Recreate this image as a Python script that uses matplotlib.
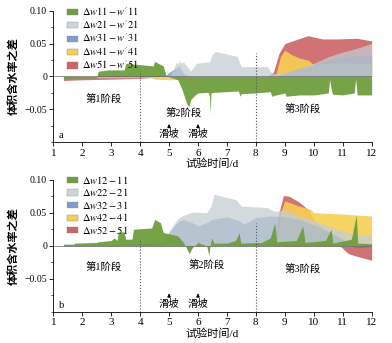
import numpy as np
import matplotlib
matplotlib.use("Agg")
import matplotlib.pyplot as plt
from matplotlib.patches import Patch
from matplotlib.ticker import MultipleLocator

plt.rcParams['font.family'] = ['Liberation Serif', 'Noto Sans CJK SC']
plt.rcParams['mathtext.fontset'] = 'stix'
plt.rcParams['axes.unicode_minus'] = True

# ---------------------------------------------------------------------------
# Datos panel a
# ---------------------------------------------------------------------------
t_a1 = [1.35, 2.5, 2.55, 2.9, 3.45, 3.5, 4.0, 4.45, 4.5, 4.8, 4.9, 5.3, 5.45, 5.6, 5.68,
        5.75, 5.9, 6.0, 6.35, 6.4, 6.42, 6.45, 6.6, 7.4, 7.45, 7.5, 8.0, 8.5, 8.55, 8.7,
        9.0, 9.05, 9.5, 10.0, 10.5, 10.55, 10.6, 10.65, 11.0, 11.4, 11.45, 11.5, 12.0]
v_a1 = [-0.003, -0.002, 0.008, 0.010, 0.010, 0.020, 0.018, 0.016, 0.023, 0.016, 0.001,
        -0.005, -0.020, -0.040, -0.046, -0.035, -0.028, -0.025, -0.024, -0.030, -0.057,
        -0.025, -0.024, -0.022, -0.030, -0.026, -0.025, -0.023, -0.030, -0.028, -0.025,
        -0.030, -0.028, -0.028, -0.025, -0.005, -0.018, -0.027, -0.028, -0.025, -0.003,
        -0.028, -0.028]

t_a2 = [1.4, 5.0, 5.15, 5.25, 5.3, 5.35, 5.4, 5.5, 5.75, 5.95, 6.3, 6.4, 6.5, 6.6, 7.3,
        7.35, 7.45, 7.5, 8.4, 8.5, 8.6, 9.0, 9.5, 10.0, 10.5, 11.0, 11.5, 12.0]
v_a2 = [-0.002, -0.002, 0.010, 0.022, 0.018, 0.025, 0.020, 0.022, 0.008, 0.020, 0.022,
        0.022, 0.034, 0.038, 0.031, 0.031, 0.020, 0.015, 0.015, 0.008, 0.004, 0.006,
        0.012, 0.020, 0.030, 0.037, 0.043, 0.050]

t_a3 = [4.85, 5.0, 5.2, 5.35, 5.5, 5.7, 8.7, 9.0, 9.5, 10.0, 10.5, 11.0, 11.5, 12.0]
v_a3 = [0.0, 0.006, 0.012, 0.016, 0.005, 0.0, 0.0, 0.005, 0.012, 0.018, 0.025, 0.030,
        0.032, 0.033]

t_a4 = [4.3, 4.5, 5.0, 5.4, 5.6, 8.5, 8.7, 8.85, 9.0, 9.2, 9.5, 9.8, 10.0, 10.5, 11.0, 12.0]
v_a4 = [0.0, -0.004, -0.005, -0.004, 0.0, 0.0, 0.005, 0.030, 0.040, 0.034, 0.028, 0.025,
        0.018, 0.020, 0.020, 0.020]

t_a5 = [1.35, 2.0, 3.0, 4.0, 4.5, 4.8, 8.4, 8.6, 8.8, 9.0, 9.4, 9.8, 10.3, 10.8, 11.5, 12.0]
v_a5 = [-0.006, -0.005, -0.004, -0.003, -0.001, 0.0, 0.0, 0.006, 0.035, 0.050, 0.056,
        0.062, 0.057, 0.057, 0.058, 0.054]

# ---------------------------------------------------------------------------
# Datos panel b
# ---------------------------------------------------------------------------
t_b1 = [1.35, 1.7, 1.75, 2.5, 2.55, 3.0, 3.1, 3.2, 3.25, 3.45, 3.5, 3.72, 3.77, 4.4, 4.5,
        4.7, 4.8, 5.3, 5.5, 5.65, 5.7, 5.8, 6.0, 6.3, 6.38, 6.42, 6.48, 6.55, 7.0, 7.3,
        7.42, 7.48, 8.2, 8.5, 8.65, 8.72, 9.4, 9.62, 9.7, 10.4, 10.6, 10.66, 11.3, 11.47,
        11.52, 12.0]
v_b1 = [0.002, 0.002, 0.004, 0.005, 0.006, 0.008, 0.012, 0.008, 0.021, 0.021, 0.010,
        0.010, 0.025, 0.027, 0.040, 0.035, 0.020, 0.015, 0.005, -0.008, -0.012, -0.003,
        0.005, 0.000, -0.015, 0.002, 0.012, 0.004, 0.004, 0.008, 0.020, 0.004, 0.005,
        0.012, 0.035, 0.006, 0.008, 0.030, 0.005, 0.008, 0.025, 0.004, 0.010, 0.047,
        0.004, 0.003]

t_b2 = [1.35, 3.0, 4.7, 4.85, 5.0, 5.3, 5.5, 5.8, 6.3, 6.45, 6.55, 7.3, 7.4, 7.5, 8.4,
        8.5, 8.7, 9.0, 9.5, 10.0, 10.5, 11.0, 11.5, 12.0]
v_b2 = [0.003, 0.003, 0.0, 0.010, 0.022, 0.041, 0.046, 0.051, 0.050, 0.060, 0.078,
        0.070, 0.065, 0.060, 0.058, 0.055, 0.052, 0.055, 0.045, 0.038, 0.030, 0.022,
        0.018, 0.015]

t_b3 = [1.35, 3.0, 4.8, 5.0, 5.3, 5.5, 5.8, 6.0, 6.3, 6.5, 7.0, 7.4, 7.6, 8.0, 8.5, 9.0,
        9.5, 10.0, 10.5, 11.0, 11.2, 11.5, 11.8, 12.0]
v_b3 = [0.002, 0.002, 0.005, 0.020, 0.036, 0.040, 0.035, 0.030, 0.035, 0.040, 0.044,
        0.038, 0.033, 0.043, 0.045, 0.044, 0.040, 0.032, 0.022, 0.010, 0.0, -0.003,
        -0.002, 0.0]

t_b4 = [8.7, 8.85, 9.0, 9.5, 9.9, 10.0, 11.0, 12.0]
v_b4 = [0.0, 0.050, 0.068, 0.060, 0.055, 0.050, 0.048, 0.045]

t_b5 = [8.6, 8.8, 8.95, 9.15, 9.5, 9.8, 10.0, 10.5, 10.9, 11.2, 11.5, 12.0]
v_b5 = [0.0, 0.050, 0.076, 0.075, 0.066, 0.055, 0.040, 0.020, 0.0, -0.012, -0.016, -0.022]

labels_a = [r'$\Delta w\mathrm{11}-w^{\prime}\mathrm{11}$',
            r'$\Delta w\mathrm{21}-w^{\prime}\mathrm{21}$',
            r'$\Delta w\mathrm{31}-w^{\prime}\mathrm{31}$',
            r'$\Delta w\mathrm{41}-w^{\prime}\mathrm{41}$',
            r'$\Delta w\mathrm{51}-w^{\prime}\mathrm{51}$']
labels_b = [r'$\Delta w\mathrm{12}-\mathrm{11}$', r'$\Delta w\mathrm{22}-\mathrm{21}$',
            r'$\Delta w\mathrm{32}-\mathrm{31}$', r'$\Delta w\mathrm{42}-\mathrm{41}$',
            r'$\Delta w\mathrm{52}-\mathrm{51}$']

colores = ['#6f9e3e', '#c3ced4', '#4a72b0', '#f7cf52', '#cd6668']
alphas = [0.95, 0.75, 0.6, 0.9, 0.92]

fig = plt.figure(figsize=(3.92, 3.43), dpi=100)
ax_a = fig.add_axes([0.136, 0.585, 0.812, 0.384])
ax_b = fig.add_axes([0.136, 0.091, 0.812, 0.385])

paneles = [
    (ax_a, [(t_a1, v_a1), (t_a2, v_a2), (t_a3, v_a3), (t_a4, v_a4), (t_a5, v_a5)],
     labels_a, 'a', [(2.75, -0.036), (5.5, -0.057), (9.6, -0.050)], 0.008, 0.035),
    (ax_b, [(t_b1, v_b1), (t_b2, v_b2), (t_b3, v_b3), (t_b4, v_b4), (t_b5, v_b5)],
     labels_b, 'b', [(2.75, -0.033), (6.3, -0.030), (9.6, -0.036)], 0.008, 0.034),
]

for ax, series, labels, letra, fases, top4, top8 in paneles:
    # orden de dibujo: rojo, amarillo, azul, gris, verde
    for i in [4, 3, 2, 1, 0]:
        t, v = series[i]
        ax.fill_between(t, 0, v, color=colores[i], alpha=alphas[i], linewidth=0)

    ax.axhline(0, color='#666666', linewidth=0.5)
    ax.plot([4, 4], [-0.1, top4], color='#555555', linestyle=':', linewidth=0.8)
    ax.plot([8, 8], [-0.1, top8], color='#555555', linestyle=':', linewidth=0.8)

    for (x, y), txt in zip(fases, ['第1阶段', '第2阶段', '第3阶段']):
        ax.text(x, y, txt, ha='center', va='center', fontsize=7.5)
    for x in [5, 6]:
        ax.annotate('', xy=(x, -0.068), xytext=(x, -0.082),
                    arrowprops=dict(arrowstyle='-|>', color='black', lw=0.6,
                                    mutation_scale=5))
        ax.text(x, -0.088, '滑坡', ha='center', va='center', fontsize=7.5)
    ax.text(1.2, -0.09, letra, ha='left', va='center', fontsize=7.5)

    ax.set_xlim(1, 12)
    ax.set_ylim(-0.1, 0.1)
    ax.set_xticks(range(1, 13))
    ax.set_yticks([0.10, 0.05, 0, -0.05])
    ax.set_yticklabels(['0.10', '0.05', '0', '\u22120.05'])
    ax.yaxis.set_minor_locator(MultipleLocator(0.025))
    ax.tick_params(length=3, width=0.6, pad=1.5, direction='out')
    ax.tick_params(axis='x', labelsize=8)
    ax.tick_params(axis='y', labelsize=7)
    ax.tick_params(which='minor', length=1.8, width=0.5)
    for s in ['top', 'right']:
        ax.spines[s].set_visible(False)
    for s in ['left', 'bottom']:
        ax.spines[s].set_linewidth(0.6)
    ax.set_xlabel('试验时间/d', fontsize=8, labelpad=1)
    ax.set_ylabel('体积含水率之差', fontsize=8, fontweight='bold', labelpad=4)

    handles = [Patch(facecolor=colores[i], alpha=min(1, alphas[i] + 0.1),
                     edgecolor='#888888', linewidth=0.3) for i in range(5)]
    ax.legend(handles, labels, loc='upper left', bbox_to_anchor=(0.043, 1.045),
              frameon=False, fontsize=7.5, handlelength=1.1, handleheight=0.55,
              labelspacing=0.05, handletextpad=0.35, borderaxespad=0,
              borderpad=0)

fig.savefig('out.png', dpi=100)
